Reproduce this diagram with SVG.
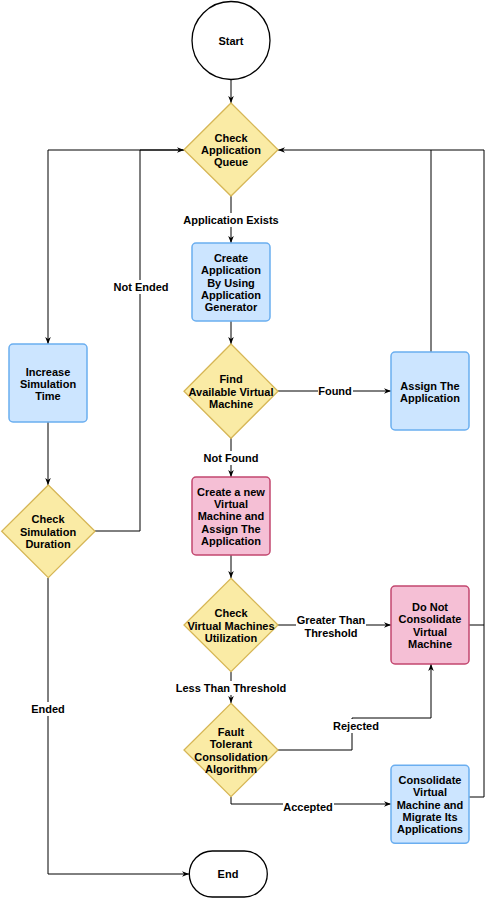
<svg xmlns="http://www.w3.org/2000/svg" width="485" height="898" viewBox="0 0 485 898">
<defs>
<marker id="arr" viewBox="0 0 10 10" refX="10" refY="5" markerWidth="7" markerHeight="7" markerUnits="userSpaceOnUse" orient="auto">
<path d="M0,1 L10,5 L0,9 L3,5 Z" fill="#000"/>
</marker>
<style>
.t{font-family:"Liberation Sans",Arial,sans-serif;font-size:11px;font-weight:bold;fill:#000;text-anchor:middle}
.term{fill:#fff;stroke:#000;stroke-width:1.3}
.dec{fill:#faeba5;stroke:#d6b656;stroke-width:1.3}
.blue{fill:#cce5ff;stroke:#6aaef0;stroke-width:1.5}
.pink{fill:#f5bfd5;stroke:#c2476f;stroke-width:1.5}
.ln{fill:none;stroke:#000;stroke-width:1}
.lb{fill:#fff}
</style>
</defs>
<rect width="485" height="898" fill="#fff"/>

<g id="connectors">
<path class="ln" d="M231,80 V103" marker-end="url(#arr)"/>
<path class="ln" d="M231,196 V243" marker-end="url(#arr)"/>
<path class="ln" d="M231,321 V344" marker-end="url(#arr)"/>
<path class="ln" d="M278,391 H391" marker-end="url(#arr)"/>
<path class="ln" d="M431,352 V150"/>
<path class="ln" d="M231,438 V477" marker-end="url(#arr)"/>
<path class="ln" d="M231,555 V578" marker-end="url(#arr)"/>
<path class="ln" d="M278,625 H391" marker-end="url(#arr)"/>
<path class="ln" d="M469,625 H484"/>
<path class="ln" d="M469,797 H484 V150 H278" marker-end="url(#arr)"/>
<path class="ln" d="M231,672 V703" marker-end="url(#arr)"/>
<path class="ln" d="M278,750 H352 V718 H431 V664" marker-end="url(#arr)"/>
<path class="ln" d="M231,797 V804 H391" marker-end="url(#arr)"/>
<path class="ln" d="M184,150 H48 V344" marker-end="url(#arr)"/>
<path class="ln" d="M48,422 V485" marker-end="url(#arr)"/>
<path class="ln" d="M95,531 H140 V150 H184" marker-end="url(#arr)"/>
<path class="ln" d="M48,578 V874 H189" marker-end="url(#arr)"/>
<rect class="lb" x="183" y="213" width="96" height="14"/>
<text class="t" x="231" y="224">Application Exists</text>
<rect class="lb" x="113" y="280" width="56" height="14"/>
<text class="t" x="141" y="291">Not Ended</text>
<rect class="lb" x="318" y="384" width="35" height="14"/>
<text class="t" x="335" y="395">Found</text>
<rect class="lb" x="203" y="451" width="56" height="14"/>
<text class="t" x="231" y="461.5">Not Found</text>
<rect class="lb" x="296" y="613" width="70" height="26"/>
<text class="t" x="331" y="624">Greater Than</text>
<text class="t" x="331" y="636.5">Threshold</text>
<rect class="lb" x="176" y="681" width="111" height="14"/>
<text class="t" x="231" y="692">Less Than Threshold</text>
<rect class="lb" x="332" y="719" width="47" height="14"/>
<text class="t" x="356" y="730">Rejected</text>
<rect class="lb" x="283" y="799" width="51" height="14"/>
<text class="t" x="308" y="810.5">Accepted</text>
<rect class="lb" x="31" y="702" width="34" height="14"/>
<text class="t" x="48" y="713">Ended</text>
</g>

<g id="start">
<circle class="term" cx="231" cy="40.5" r="39"/>
<text class="t" x="231" y="44.5">Start</text>
</g>

<g id="checkQueue">
<path class="dec" d="M231,103 L278,149.7 L231,196 L184,149.7 Z"/>
<text class="t" x="231" y="141.5">Check</text>
<text class="t" x="231" y="153.9">Application</text>
<text class="t" x="231" y="166.3">Queue</text>
</g>

<g id="createApp">
<rect class="blue" x="192" y="243" width="78" height="78" rx="4"/>
<text class="t" x="231" y="261.6">Create</text>
<text class="t" x="231" y="274">Application</text>
<text class="t" x="231" y="286.5">By Using</text>
<text class="t" x="231" y="298.9">Application</text>
<text class="t" x="231" y="311.3">Generator</text>
</g>

<g id="findVM">
<path class="dec" d="M231,344 L278,391.2 L231,438.3 L184,391.2 Z"/>
<text class="t" x="231" y="383">Find</text>
<text class="t" x="231" y="395.5">Available Virtual</text>
<text class="t" x="231" y="408">Machine</text>
</g>

<g id="assign">
<rect class="blue" x="391" y="352" width="78" height="78" rx="4"/>
<text class="t" x="430" y="389.5">Assign The</text>
<text class="t" x="430" y="402">Application</text>
</g>

<g id="increaseTime">
<rect class="blue" x="9" y="344" width="78" height="78" rx="4"/>
<text class="t" x="48" y="375.5">Increase</text>
<text class="t" x="48" y="388">Simulation</text>
<text class="t" x="48" y="400.3">Time</text>
</g>

<g id="checkDuration">
<path class="dec" d="M48.3,485 L95,531.3 L48.3,577.7 L1.7,531.3 Z"/>
<text class="t" x="48" y="523.3">Check</text>
<text class="t" x="48" y="535.7">Simulation</text>
<text class="t" x="48" y="548">Duration</text>
</g>

<g id="createVM">
<rect class="pink" x="192" y="477" width="78" height="78" rx="4"/>
<text class="t" x="231" y="495.7">Create a new</text>
<text class="t" x="231" y="508">Virtual</text>
<text class="t" x="231" y="520.3">Machine and</text>
<text class="t" x="231" y="532.7">Assign The</text>
<text class="t" x="231" y="545">Application</text>
</g>

<g id="checkUtil">
<path class="dec" d="M231,578.3 L278,625 L231,671.7 L184,625 Z"/>
<text class="t" x="231" y="617.3">Check</text>
<text class="t" x="231" y="629.5">Virtual Machines</text>
<text class="t" x="231" y="641.7">Utilization</text>
</g>

<g id="doNot">
<rect class="pink" x="391" y="586" width="78" height="78" rx="4"/>
<text class="t" x="430" y="611">Do Not</text>
<text class="t" x="430" y="623.3">Consolidate</text>
<text class="t" x="430" y="635.7">Virtual</text>
<text class="t" x="430" y="648">Machine</text>
</g>

<g id="fault">
<path class="dec" d="M231,703.3 L278,750 L231,796.7 L184,750 Z"/>
<text class="t" x="231" y="736">Fault</text>
<text class="t" x="231" y="748.3">Tolerant</text>
<text class="t" x="231" y="760.7">Consolidation</text>
<text class="t" x="231" y="773">Algorithm</text>
</g>

<g id="consolidate">
<rect class="blue" x="391" y="765.3" width="78" height="78" rx="4"/>
<text class="t" x="430" y="784">Consolidate</text>
<text class="t" x="430" y="796.3">Virtual</text>
<text class="t" x="430" y="808.7">Machine and</text>
<text class="t" x="430" y="821">Migrate Its</text>
<text class="t" x="430" y="833.3">Applications</text>
</g>

<g id="end">
<rect class="term" x="189.3" y="851" width="78" height="46" rx="23"/>
<text class="t" x="228" y="878">End</text>
</g>
</svg>
